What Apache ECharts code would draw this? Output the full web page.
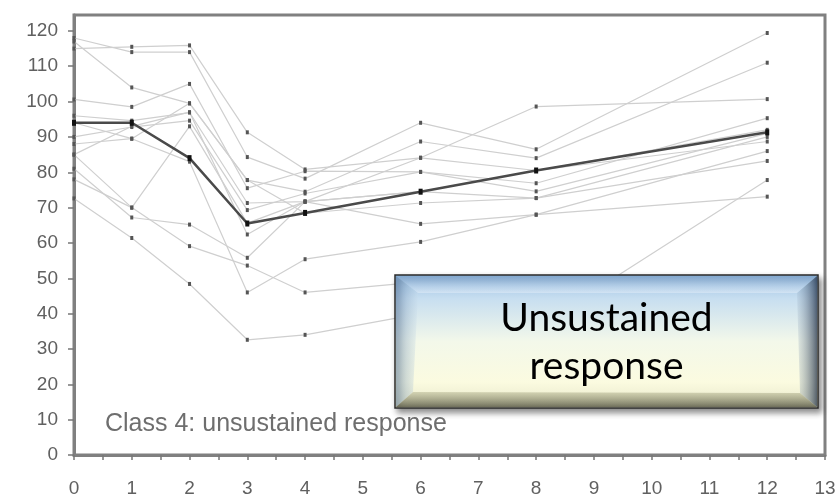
<!DOCTYPE html>
<html>
<head>
<meta charset="utf-8">
<script src="https://cdn.jsdelivr.net/npm/echarts@6/dist/echarts.min.js"></script>
<style>html,body{margin:0;padding:0;background:#fff}#c{width:839px;height:498px}</style>
</head>
<body>
<div id="c"></div>
<script>
// time points (x axis)
const times = [0, 1, 2, 3, 4, 6, 8, 12];
// individual trajectories (grey)
const subj01 = [118, 114, 114, 84.3, 78.2, 94, 86.5, 119.4];
const subj02 = [115, 115.5, 115.9, 91.3, 80.8, 84.1, 98.6, 100.7];
const subj03 = [117, 104, 99.5, 77.8, 74.5, 88.7, 84, 111];
const subj04 = [100.6, 98.5, 105, 75.5, 80.3, 80.1, 76.9, 95.3];
const subj05 = [96, 94.6, 96.9, 71.3, 71.7, 84.1, 80.5, 88.7];
const subj06 = [90, 92.8, 94.6, 69.3, 74, 80.1, 74.6, 91];
const subj07 = [88, 89.5, 99.5, 77.8, 68.4, 71.3, 72.7, 83.2];
const subj08 = [85, 70, 93, 65.6, 71.7, 74.5, 80.5, 92];
const subj09 = [81, 67.2, 65.2, 55.8, 71.7, 65.4, 68, 73.1];
const subj10 = [78, 70, 59.1, 53.6, 46, 49, 47, null];
const subj11 = [72.6, 61.4, 48.4, 32.6, 34, 40, 36, 77.8];
const subj12 = [94, 89.5, 83, 46, 55.4, 60.3, 68, 86];
const subj13 = [85, 93, 97, 62.4, 71.7, 74.5, 72.7, 90];
// class mean trajectory (black)
const meanLine = [94, 94, 84, 65.5, 68.5, 74.5, 80.5, 91.3];
// axis ticks
const yTicks = [0, 10, 20, 30, 40, 50, 60, 70, 80, 90, 100, 110, 120];
const yMin = 0, yMax = 124.5;
const xMin = 0, xMax = 13, xStep = 1;
const classLabel = 'Class 4: unsustained response';
const boxLines = ['Unsustained', 'response'];

const subjects = [subj01, subj02, subj03, subj04, subj05, subj06, subj07, subj08, subj09, subj10, subj11, subj12, subj13];
const pair = arr => times.map((t, i) => [t, arr[i]]);

const series = subjects.map(s => ({
  type: 'line',
  data: pair(s),
  symbol: 'rect',
  symbolSize: [3, 4],
  itemStyle: { color: '#555' },
  lineStyle: { color: '#cfcfcf', width: 1.2 },
  z: 2,
  silent: true,
  animation: false
}));
series.push({
  type: 'line',
  data: pair(meanLine),
  symbol: 'rect',
  symbolSize: [4, 6],
  itemStyle: { color: '#111' },
  lineStyle: { color: '#4a4a4a', width: 2.5 },
  z: 5,
  silent: true,
  animation: false
});

const BX = 395, BY = 275, BW = 423, BH = 133;
const ZB = 100;
const chart = echarts.init(document.getElementById('c'), null, { renderer: 'canvas' });
chart.setOption({
  backgroundColor: '#fff',
  animation: false,
  grid: { left: 74, right: 14, top: 15, bottom: 39, show: true, borderColor: '#808080', borderWidth: 3, containLabel: false },
  xAxis: {
    type: 'value', min: xMin, max: xMax, interval: xStep,
    axisLine: { show: true, lineStyle: { color: '#808080', width: 3 } },
    axisTick: { show: true, inside: false, length: 5, lineStyle: { color: '#777', width: 1.5 } },
    minorTick: { show: true, splitNumber: 2, length: 5, lineStyle: { color: '#777', width: 1.5 } },
    splitLine: { show: false },
    axisLabel: { color: '#606060', fontSize: 19, fontFamily: 'Liberation Sans', margin: 24 }
  },
  yAxis: {
    type: 'value', min: yMin, max: yMax,
    axisLine: { show: true, lineStyle: { color: '#808080', width: 3 } },
    axisTick: { show: true, inside: false, length: 6, customValues: yTicks, lineStyle: { color: '#777', width: 1.5 } },
    splitLine: { show: false },
    axisLabel: { color: '#606060', fontSize: 19, fontFamily: 'Liberation Sans', margin: 16, customValues: yTicks }
  },
  series: series,
  graphic: [
    { type: 'text', left: 105, top: 412, z: 10, silent: true,
      style: { text: classLabel, fill: '#6e6e6e', fontSize: 25, fontFamily: 'Liberation Sans' } },
    { type: 'group', x: BX, y: BY, z: ZB, silent: true, children: [
      { type: 'rect', z: ZB, shape: { x: 0, y: 0, width: BW, height: BH },
        style: {
          fill: new echarts.graphic.LinearGradient(0, 0, 0, 1, [
            { offset: 0, color: '#97bde0' },
            { offset: 0.18, color: '#c7def0' },
            { offset: 0.5, color: '#f3f8ea' },
            { offset: 0.8, color: '#fbfbe0' },
            { offset: 1, color: '#e6e6c8' }
          ]),
          stroke: '#2a2a2a', lineWidth: 1.5,
          shadowBlur: 6, shadowOffsetX: 3, shadowOffsetY: 4, shadowColor: 'rgba(0,0,0,0.45)'
        } },
      { type: 'polygon', z: ZB + 1, shape: { points: [[1, 1], [BW - 1, 1], [BW - 21, 18], [23, 18]] },
        style: { fill: new echarts.graphic.LinearGradient(0, 0, 0, 1, [
          { offset: 0, color: 'rgba(120,160,205,0.55)' }, { offset: 1, color: 'rgba(230,240,250,0.5)' }]) } },
      { type: 'polygon', z: ZB + 1, shape: { points: [[1, 1], [23, 18], [18, BH - 16], [1, BH - 1]] },
        style: { fill: new echarts.graphic.LinearGradient(0, 0, 1, 0, [
          { offset: 0, color: 'rgba(70,105,150,0.45)' }, { offset: 1, color: 'rgba(200,220,235,0.25)' }]) } },
      { type: 'polygon', z: ZB + 1, shape: { points: [[BW - 1, 1], [BW - 21, 18], [BW - 18, BH - 15], [BW - 1, BH - 1]] },
        style: { fill: new echarts.graphic.LinearGradient(0, 0, 1, 0, [
          { offset: 0, color: 'rgba(150,170,190,0.2)' }, { offset: 1, color: 'rgba(25,40,65,0.7)' }]) } },
      { type: 'polygon', z: ZB + 1, shape: { points: [[1, BH - 1], [18, BH - 16], [BW - 18, BH - 15], [BW - 1, BH - 1]] },
        style: { fill: new echarts.graphic.LinearGradient(0, 0, 0, 1, [
          { offset: 0, color: 'rgba(150,150,110,0.35)' }, { offset: 1, color: 'rgba(50,50,35,0.65)' }]) } },
      { type: 'text', z: ZB + 2, x: BW / 2, y: 43, style: { text: boxLines[0], fill: '#000', fontSize: 39, fontFamily: 'Lato', align: 'center', verticalAlign: 'middle' } },
      { type: 'text', z: ZB + 2, x: BW / 2, y: 91, style: { text: boxLines[1], fill: '#000', fontSize: 39, fontFamily: 'Lato', align: 'center', verticalAlign: 'middle' } }
    ] }
  ]
});
</script>
</body>
</html>
